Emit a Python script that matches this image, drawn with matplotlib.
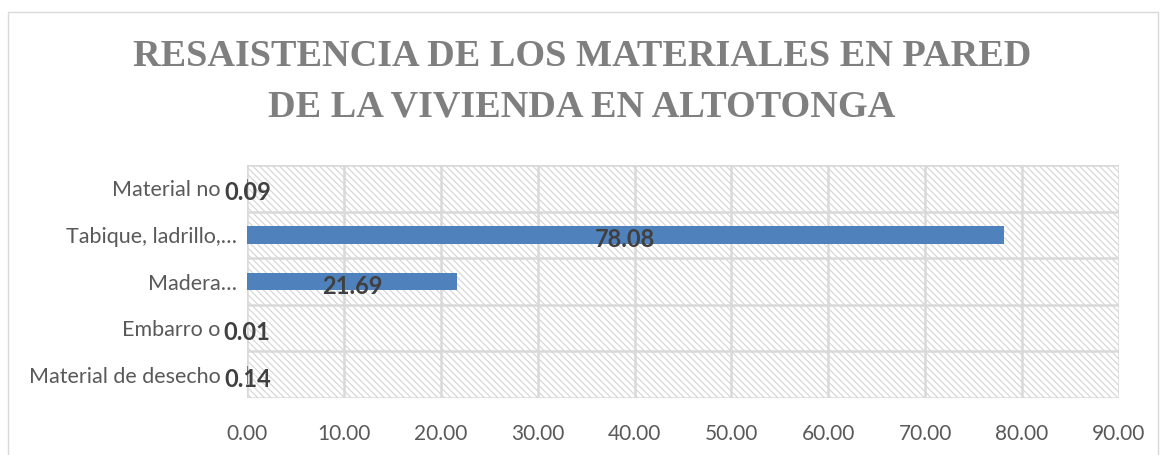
import matplotlib.pyplot as plt
from matplotlib.patches import Rectangle

# data (bottom to top)
categories = ['Material de desecho   ', 'Embarro o   ', 'Madera…', 'Tabique, ladrillo,…', 'Material no   ']
values = [0.14, 0.01, 21.69, 78.08, 0.09]
ticks = [0, 10, 20, 30, 40, 50, 60, 70, 80, 90]
tick_labels = ['%.2f' % t for t in ticks]

plt.rcParams['hatch.color'] = '#d4d4d4'
plt.rcParams['hatch.linewidth'] = 0.8

fig = plt.figure(figsize=(11.64, 4.55), dpi=100)
ax = fig.add_axes([247 / 1164, 1 - 398 / 455, (1119 - 247) / 1164, (398 - 165) / 455])

# hatched plot background
ax.add_patch(Rectangle((0, 0), 1, 1, transform=ax.transAxes, facecolor='white',
                       hatch='\\\\\\\\\\', edgecolor='#d4d4d4', linewidth=0, zorder=0))

pos = list(range(len(categories)))
ax.barh(pos, values, height=0.38, color='#4f81bd', zorder=3)
for p, v in zip(pos, values):
    ax.text(v / 2, p - 0.1, '%.2f' % v, ha='center', va='center', fontsize=17,
            fontweight='bold', color='#404040', family='Lato', zorder=4)

ax.set_xlim(0, 90)
ax.set_ylim(-0.5, len(categories) - 0.5)
ax.set_xticks(ticks)
ax.set_xticklabels(tick_labels, family='Lato', fontsize=15, color='#595959')
ax.set_yticks(pos)
ax.set_yticklabels(categories, family='Lato', fontsize=15.5, color='#595959')
ax.tick_params(length=0, pad=7)
ax.tick_params(axis='x', pad=19)

# grid: vertical at ticks, horizontal between categories
for t in ticks:
    ax.axvline(t, color='#d9d9d9', lw=1.8, zorder=1)
for b in [i + 0.5 for i in range(-1, len(categories))]:
    ax.axhline(b, color='#d9d9d9', lw=1.8, zorder=1)
for s in ax.spines.values():
    s.set_visible(False)

fig.text(0.5, 1 - 57 / 455, 'RESAISTENCIA DE LOS MATERIALES EN PARED', ha='center', va='center',
         fontsize=27.5, fontweight='bold', color='#7f7f7f', family='Liberation Serif')
fig.text(0.5, 1 - 107 / 455, 'DE LA VIVIENDA EN ALTOTONGA', ha='center', va='center',
         fontsize=27.5, fontweight='bold', color='#7f7f7f', family='Liberation Serif')

# chart border
fig.add_artist(Rectangle((8 / 1164, -0.01), 1150 / 1164, 1 - 12 / 455 + 0.01, transform=fig.transFigure,
                         fill=False, edgecolor='#d9d9d9', lw=1))

fig.savefig('out.png', dpi=100)
